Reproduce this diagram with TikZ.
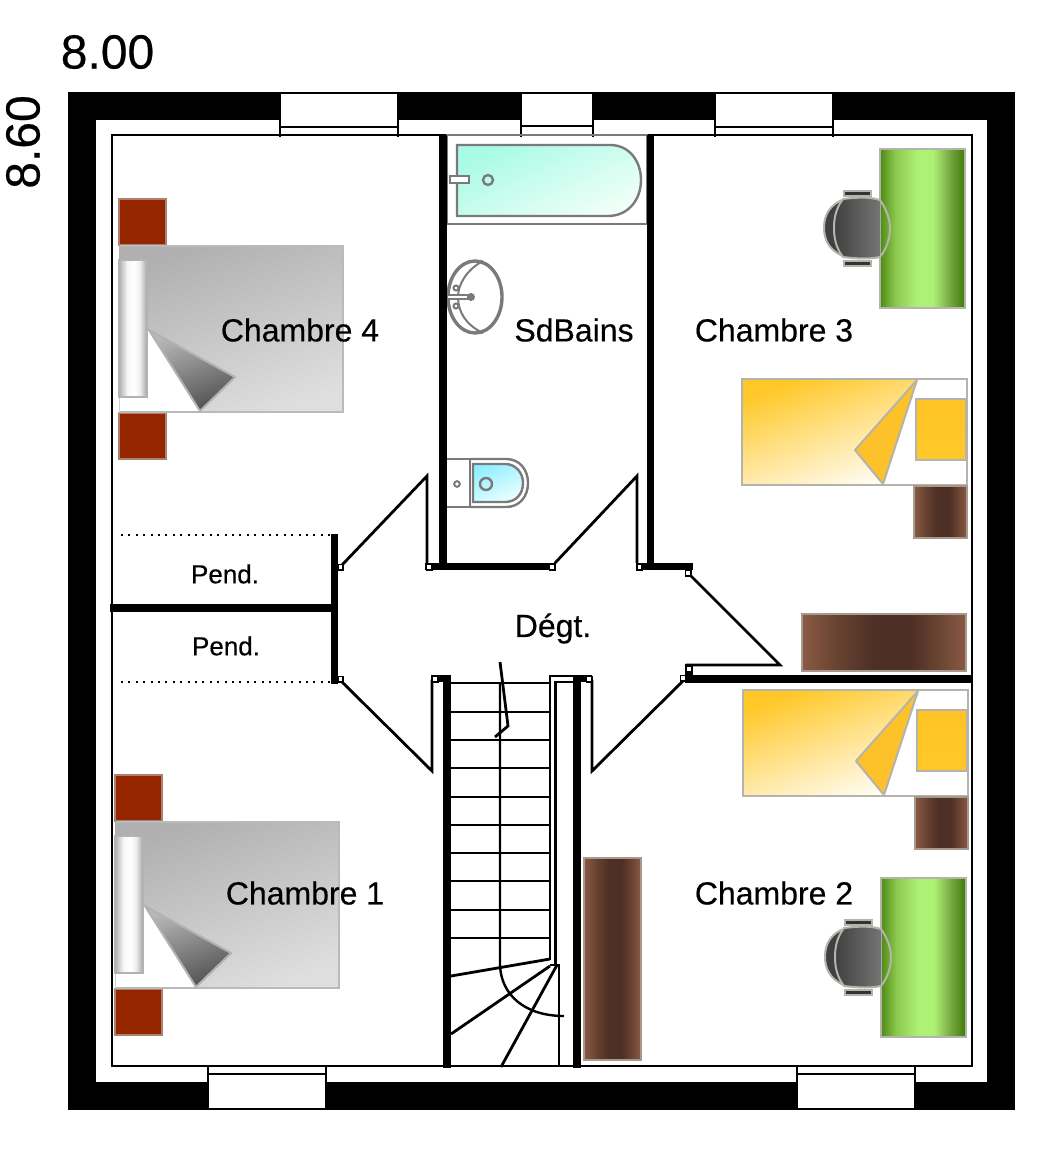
\documentclass[tikz,border=0pt]{standalone}
\usepackage{fontspec}
\setmainfont{Liberation Sans}
\newfontfamily\lblfont[FakeBold=0.35]{Liberation Sans}
\definecolor{fgray}{HTML}{B4B4AC}
\definecolor{fixt}{HTML}{7A7A7A}
\definecolor{rust}{HTML}{962600}
\definecolor{brownE}{HTML}{8A5A45}
\definecolor{brownM}{HTML}{64402F}
\definecolor{brownC}{HTML}{4E2F25}
\definecolor{deskA}{HTML}{4F8A15}
\definecolor{deskB}{HTML}{8CC84F}
\definecolor{deskC}{HTML}{AEF275}
\definecolor{deskD}{HTML}{78A842}
\definecolor{deskE}{HTML}{3E7A08}
\definecolor{yelTop}{HTML}{FFC828}
\definecolor{yelBot}{HTML}{FFFCF0}
\definecolor{yelTri}{HTML}{FDC22A}
\pgfdeclarehorizontalshading{deskshade}{100bp}{color(0bp)=(deskA); color(25bp)=(deskA); color(34bp)=(deskB); color(47bp)=(deskC); color(56bp)=(deskC); color(66bp)=(deskD); color(75bp)=(deskE); color(100bp)=(deskE)}
\pgfdeclarehorizontalshading{brownh}{100bp}{color(0bp)=(brownE); color(25bp)=(brownE); color(37bp)=(brownM); color(47bp)=(brownC); color(58bp)=(brownC); color(65bp)=(brownM); color(75bp)=(brownE); color(100bp)=(brownE)}
\pgfdeclarehorizontalshading{pillowh}{100bp}{color(0bp)=(black!32); color(25bp)=(black!32); color(40bp)=(black!3); color(52bp)=(white); color(62bp)=(black!6); color(75bp)=(black!35); color(100bp)=(black!35)}
\tikzset{
  wallfill/.style={fill=black,draw=none},
  thin line/.style={draw=black,line width=2.4pt},
  doorline/.style={draw=black,line width=2.8pt,line cap=round},
  roomlabel/.style={font=\lblfont\fontsize{32}{36}\selectfont,text=black,inner sep=0pt},
  closetlabel/.style={font=\lblfont\fontsize{26}{30}\selectfont,text=black,inner sep=0pt},
  dimlabel/.style={font=\lblfont\fontsize{48}{52}\selectfont,text=black,inner sep=0pt},
  furn/.style={draw=fgray,line width=2pt},
  brownbar/.style={furn,draw=brownE!30!fgray,shading=brownh},
  fixture/.style={draw=fixt,line width=2.4pt},
  stand/.style={fill=rust,draw=rust!35!fgray,line width=2pt},
}
\newcommand{\doorsq}[2]{\draw[draw=black,fill=white,line width=1.8pt] (#1-2.6,#2-2.6) rectangle (#1+2.6,#2+2.6);}
\newcommand{\windowtop}[3]{%
  \fill[white] (#1,94) rectangle (#2,122);
  \draw[thin line] (#1-1,#3) -- (#2+1,#3);
  \draw[thin line] (#1-1,120) -- (#1-1,137);
  \draw[thin line] (#2+1,118) -- (#2+1,137);}
\newcommand{\windowbot}[2]{%
  \fill[white] (#1,1066) rectangle (#2,1108);
  \draw[thin line] (#1-1,1074) -- (#2+1,1074);
  \draw[thin line] (#1-1,1066) -- (#1-1,1082);
  \draw[thin line] (#2+1,1066) -- (#2+1,1083);}
\newcommand{\graybed}[2]{\begin{scope}[shift={(#1,#2)}]
  \draw[stand] (119,199) rectangle (166,245);
  \draw[stand] (119,413) rectangle (166,459);
  \shade[top color=black!31,bottom color=black!13,shading angle=20] (119,246) rectangle (343,412);
  \fill[white] (148,330) -- (200,411) -- (120,411) -- (120,397) -- (148,397) -- cycle;
  \draw[draw=black!27,line width=2pt] (120,412) -- (343,412) -- (343,246) -- (120,246);
  \shade[shading=pillowh,draw=black!30,line width=1.6pt] (119,260) rectangle (147,397);
  \shade[draw=black!30,line width=2pt,top color=black!28,bottom color=black!68,shading angle=20] (149,330) -- (235,377) -- (200,411) -- cycle;
\end{scope}}
\newcommand{\deskchair}[2]{\begin{scope}[shift={(#1,#2)}]
  \shade[furn,shading=deskshade] (880,149) rectangle (965,308);
  \draw[furn,fill=black!80,line width=2pt] (844,191) rectangle (871,196);
  \draw[furn,fill=black!80,line width=2pt] (844,261) rectangle (871,266);
  \draw[furn,fill=black!75,line width=2pt] (840,201) .. controls (826,208) and (824,220) .. (824,228) .. controls (824,238) and (828,250) .. (843,256) -- (846,228) -- cycle;
  \begin{scope}
    \clip (800,180) rectangle (880,280);
    \shade[left color=black!75,right color=black!50] (843,199) .. controls (860,197) and (870,197) .. (880,200) .. controls (887,210) and (890,220) .. (890,228) .. controls (890,238) and (887,248) .. (880,257) .. controls (870,259) and (860,259) .. (843,257) .. controls (836,248) and (834,238) .. (834,228) .. controls (834,218) and (836,208) .. (843,199) -- cycle;
  \end{scope}
  \draw[furn,line width=2pt] (843,199) .. controls (860,197) and (870,197) .. (880,200) .. controls (887,210) and (890,220) .. (890,228) .. controls (890,238) and (887,248) .. (880,257) .. controls (870,259) and (860,259) .. (843,257) .. controls (836,248) and (834,238) .. (834,228) .. controls (834,218) and (836,208) .. (843,199) -- cycle;
\end{scope}}
\newcommand{\yellowbed}[2]{\begin{scope}[shift={(#1,#2)}]
  \draw[furn,fill=white] (742,379) rectangle (967,485);
  \shade[top color=yelTop,bottom color=yelBot,shading angle=20] (743,380) -- (917,380) -- (883,484) -- (743,484) -- cycle;
  \draw[furn] (742,379) -- (917,379);
  \draw[furn] (742,485) -- (883,485);
  \draw[furn,fill=yelTri,line join=round] (917,380) -- (855,450) -- (883,484) -- cycle;
  \shade[furn,top color=yelTop!95!orange,bottom color=yelTop] (916,399) rectangle (966,460);
  \shade[brownbar] (914,486) rectangle (967,538);
\end{scope}}
\begin{document}
\begin{tikzpicture}[x=1pt,y=-1pt]
\useasboundingbox (0,0) rectangle (1041,1155);
\fill[white] (0,0) rectangle (1041,1155);
% outer walls
\fill[wallfill] (68,92) rectangle (1015,1110);
\fill[white] (96,120) rectangle (987,1082);
% windows
\windowtop{281}{397}{127}
\windowtop{522}{592}{126}
\windowtop{716}{832}{127}
\windowbot{209}{325}
\windowbot{798}{914}
% inner outline
\draw[thin line] (112,135) rectangle (972,1066);
% bath
\draw[fixture] (447,135) rectangle (647,224);
\shade[fixture,top color={rgb,255:red,168;green,251;blue,228},bottom color={rgb,255:red,240;green,255;blue,248},shading angle=25] (457,145) -- (610,145) .. controls (630,145) and (641,162) .. (641,180) .. controls (641,200) and (628,216) .. (608,216) -- (457,216) -- cycle;
\draw[fixture,fill=white] (450,176) rectangle (469,183);
\draw[fixture] (488,180) circle (5);
% sink
\draw[fixture,line width=3.4pt] (475,297) ellipse [x radius=27,y radius=36];
\draw[fixture,line width=2pt] (483,261) .. controls (466,270) and (458,285) .. (458,297) .. controls (458,312) and (466,325) .. (483,333);
\draw[fixture,line width=2pt] (456,288) circle (2.5) (456,306) circle (2.5);
\draw[fixture,fill=white,line width=2pt] (447,295) rectangle (468,299);
\fill[fixt] (471,297) circle (4);
% toilet
\draw[fixture] (446,459) rectangle (470,507);
\draw[fixture] (470,459) -- (506,459) .. controls (520,459) and (528,470) .. (528,483) .. controls (528,496) and (520,507) .. (506,507) -- (470,507);
\shade[fixture,top color={rgb,255:red,144;green,240;blue,255},bottom color={rgb,255:red,236;green,255;blue,255},shading angle=25] (473,464) -- (505,464) .. controls (516,464) and (523,473) .. (523,483) .. controls (523,494) and (516,502) .. (505,502) -- (473,502) -- cycle;
\draw[fixture] (486,484) circle (6);
\draw[fixture,line width=2pt] (457,484) circle (2.8);
% furniture
\graybed{0}{0}
\graybed{-4}{576}
\deskchair{0}{0}
\deskchair{1}{729}
\yellowbed{0}{0}
\yellowbed{1}{311}
\shade[brownbar] (802,614) rectangle (966,671);
\shade[brownbar] (584,858) rectangle (641,1060);
% inner walls
\fill[wallfill] (439,135) rectangle (447,570);
\fill[wallfill] (647,135) rectangle (654,570);
\fill[wallfill] (425,563) rectangle (556,570);
\fill[wallfill] (637,563) rectangle (693,570);
\fill[wallfill] (331,534) rectangle (338,684);
\fill[wallfill] (110,604) rectangle (332,612);
\fill[wallfill] (685,675) rectangle (973,683);
\fill[wallfill] (685,665) rectangle (693,675);
\fill[wallfill] (443,675) rectangle (451,1068);
\fill[wallfill] (573,675) rectangle (581,1068);
\fill[wallfill] (431,675) rectangle (451,682);
\fill[wallfill] (573,675) rectangle (592,682);
% closet dotted lines
\draw[line width=2pt,dash pattern=on 2pt off 5.4pt] (121,534.5) -- (332,534.5);
\draw[line width=2pt,dash pattern=on 2pt off 5.4pt] (121,682) -- (332,682);
% doors
\draw[doorline] (342,565) -- (427,476) -- (427,563);
\draw[doorline] (342,682) -- (432,771) -- (432,680);
\draw[doorline] (555,563) -- (637,476) -- (637,563);
\draw[doorline] (691,576) -- (780,665) -- (686,665);
\draw[doorline] (683,681) -- (592,771) -- (592,680);
\doorsq{340.5}{567}
\doorsq{340.5}{679}
\doorsq{429}{567}
\doorsq{552}{567}
\doorsq{639.5}{567}
\doorsq{688}{573}
\doorsq{689}{669}
\doorsq{683}{678}
\doorsq{435}{679}
\doorsq{589}{679}
% stair
\foreach \yy in {683,712,740,768,797,825,853,881,910,938}
  \draw[thin line] (451,\yy) -- (550,\yy);
\draw[thin line] (550,676) -- (573,676);
\draw[thin line] (550,675) -- (550,960);
\draw[thin line] (555,682) -- (573,682);
\draw[thin line] (555.5,681) -- (555.5,965);
\draw[thin line] (550,965) -- (559,965) -- (559,1066);
\draw[line width=2.8pt] (451,976) -- (550,959);
\draw[line width=2.8pt] (451,1034) -- (550,966);
\draw[line width=2.8pt] (501,1067) -- (557,965);
\draw[line width=2.4pt] (500,683) -- (500,965) .. controls (501,995) and (525,1016) .. (564,1016);
\draw[line width=2.8pt] (500,662) -- (508,726) -- (495,737);
% labels
\node[roomlabel] (ch4) at (300,330) {Chambre 4};
\node[roomlabel] (ch3) at (774,330) {Chambre 3};
\node[roomlabel] (sdb) at (574,330) {SdBains};
\node[roomlabel] (ch2) at (774,893) {Chambre 2};
\node[roomlabel] (ch1) at (305,893) {Chambre 1};
\node[roomlabel] (deg) at (553,628.5) {Dégt.};
\node[closetlabel] (p1) at (225,574) {Pend.};
\node[closetlabel] (p2) at (226,646) {Pend.};
\node[dimlabel] (w) at (107.5,52) {8.00};
\node[dimlabel,rotate=90] (h) at (23,142) {8.60};
\end{tikzpicture}
\end{document}
